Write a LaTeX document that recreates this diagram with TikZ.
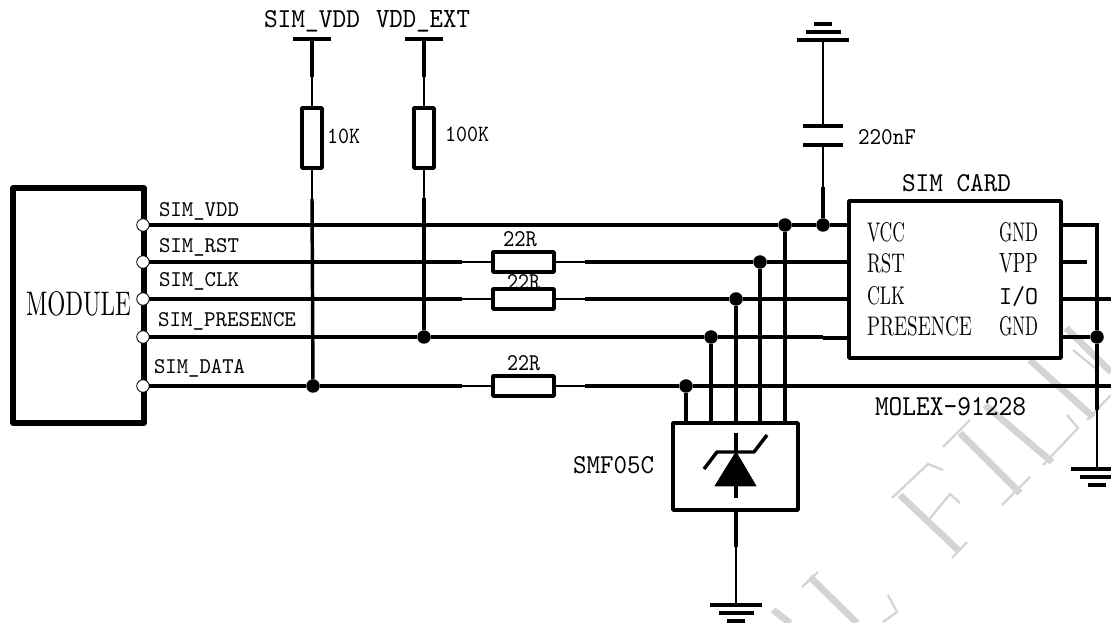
\documentclass[tikz,border=0pt]{standalone}
\usepackage{graphicx}
\newdimen\pxd \pxd=0.75pt
\newcommand\lab[6]{\node[anchor=base west,inner sep=0pt,outer sep=0pt] (#1) at (#2,#3) {\resizebox{#4\pxd}{#5\pxd}{\ttfamily #6}};}
\newcommand\labr[6]{\node[anchor=base west,inner sep=0pt,outer sep=0pt] (#1) at (#2,#3) {\resizebox{#4\pxd}{#5\pxd}{\rmfamily #6}};}
\newcommand\wmb[4]{\fill[black!17] ({#1+2.4},{#2-2.4}) -- ({#3+2.4},{#4-2.4}) -- ({#3-2.4},{#4+2.4}) -- ({#1-2.4},{#2+2.4}) -- cycle;}
\newcommand\gnd[2]{% name, direction (1 bars going down, -1 bars going up)
  \draw[heavy] ([xshift=-26*.75pt]#1) -- ([xshift=26*.75pt]#1);
  \draw[heavy] ([xshift=-17.5*.75pt,yshift=-#2*8*.75pt]#1) -- ([xshift=17.5*.75pt,yshift=-#2*8*.75pt]#1);
  \draw[heavy] ([xshift=-9*.75pt,yshift=-#2*16*.75pt]#1) -- ([xshift=9*.75pt,yshift=-#2*16*.75pt]#1);}
\tikzset{
  heavy/.style={line width=2.6pt,line cap=butt},
  fine/.style={line width=1.1pt,line cap=butt},
  box/.style={draw,line width=2.6pt,rectangle,inner sep=0pt,outer sep=0pt,line join=round},
  res v/.style={box,minimum width=20*.75pt,minimum height=60*.75pt},
  res h/.style={box,minimum width=61*.75pt,minimum height=20*.75pt},
  pin/.style={circle,draw,line width=0.6pt,fill=white,inner sep=0pt,outer sep=0pt,minimum size=12.5*.75pt},
  dot/.style={circle,fill=black,inner sep=0pt,outer sep=0pt,minimum size=13.5*.75pt},
  wmt/.style={draw=black!17,line width=1.7pt,line cap=butt}
}
\begin{document}
\begin{tikzpicture}[x=0.75pt,y=-0.75pt]
\useasboundingbox (0,0) rectangle (1111,623);
\fill[white] (0,0) rectangle (1111,623);
\clip (0,0) rectangle (1111,623);
% watermark
\wmb{900}{495}{958}{550}
\draw[wmt] (892,498) -- (928,464) -- (943,470);
\draw[wmt] (927,522) -- (950,494) -- (960,503);
\draw[wmt] (952,558) -- (967,542);
\wmb{960}{433}{1020}{493}
\draw[wmt] (943,447) -- (970,420);
\draw[wmt] (1002,505) -- (1030,477);
\wmb{985}{405}{1052}{462}
\draw[wmt] (1043,465) -- (1078,428) -- (1067,415);
\wmb{1030}{360}{1093}{417}
\wmb{1066}{328}{1111}{372}
\draw[wmt] (1073,350) -- (1095,368);
\draw[wmt] (1087,420) -- (1111,395);
\wmb{810}{577}{857}{623}
\draw[wmt] (802,587) -- (818,572);
\wmb{773}{610}{790}{623}
\draw[wmt] (888,595) -- (897,612) -- (883,622);
% main blocks
\node[box,line width=3.8pt,minimum width=131*.75pt,minimum height=235*.75pt] (module) at (78.5,305.5) {};
\node[box,minimum width=212*.75pt,minimum height=157*.75pt] (card) at (955,279.5) {};
\node[box,minimum width=125*.75pt,minimum height=87*.75pt] (tvs) at (735.5,466.5) {};
\node[res v] (r10k) at (312,138) {};
\node[res v] (r100k) at (424,138) {};
\node[res h] (rrst) at (523.5,262) {};
\node[res h] (rclk) at (523.5,299) {};
\node[res h] (rdata) at (523.5,386) {};
% pins
\node[pin] (p1) at (143,225) {};
\node[pin] (p2) at (143,262) {};
\node[pin] (p3) at (143,299) {};
\node[pin] (p4) at (143,337) {};
\node[pin] (p5) at (143,386) {};
% junctions
\node[dot] (jtvdd) at (785,225) {};
\node[dot] (jcap) at (823,225) {};
\node[dot] (jrst) at (760,262) {};
\node[dot] (jclk) at (736,299) {};
\node[dot] (jpres) at (711,337) {};
\node[dot] (jdata) at (686,386) {};
\node[dot] (jd10k) at (313,386) {};
\node[dot] (jp100k) at (424,337) {};
\node[dot] (jgnd) at (1097,337) {};
% coordinates
\coordinate (vddtop) at (312,39);
\coordinate (vddth) at (312,77);
\coordinate (r10kth) at (312,199);
\coordinate (exttop) at (424,39);
\coordinate (extth) at (424,77);
\coordinate (r100kth) at (424,198);
\coordinate (rstA) at (462,262);
\coordinate (rstB) at (585,262);
\coordinate (clkA) at (462,299);
\coordinate (clkB) at (585,299);
\coordinate (dataA) at (462,386);
\coordinate (dataB) at (585,386);
\coordinate (dataE) at (1111,386);
\coordinate (ioE) at (1111,299);
\coordinate (vppE) at (1087,262);
\coordinate (gndT) at (1097,225);
\coordinate (gndth) at (1097,410);
\coordinate (g1) at (1097,469);
\coordinate (g2) at (736,605);
\coordinate (g3) at (823,40);
\coordinate (tvsth) at (736,547);
\coordinate (capA) at (823,126);
\coordinate (capB) at (823,145);
\coordinate (capth) at (823,187);
\coordinate (presjog) at (823,337);
\coordinate (presjog2) at (823,338);
% connectors
\draw[heavy] (p1) -- (jtvdd) -- (jcap) -- (card.west |- jcap);
\draw[heavy] (p2) -- (rstA);
\draw[fine] (rstA) -- (rrst) (rrst) -- (rstB);
\draw[heavy] (rstB) -- (jrst) -- (card.west |- jrst);
\draw[heavy] (p3) -- (clkA);
\draw[fine] (clkA) -- (rclk) (rclk) -- (clkB);
\draw[heavy] (clkB) -- (jclk) -- (card.west |- jclk);
\draw[heavy] (p4) -- (jp100k) -- (jpres) -- (presjog);
\draw[heavy] (presjog2) -- (card.west |- presjog2);
\draw[heavy] (p5) -- (jd10k) -- (dataA);
\draw[fine] (dataA) -- (rdata) (rdata) -- (dataB);
\draw[heavy] (dataB) -- (jdata) -- (dataE);
\draw[heavy] (jtvdd) -- (jtvdd |- tvs.north);
\draw[heavy] (jrst) -- (jrst |- tvs.north);
\draw[heavy] (jclk) -- (jclk |- tvs.north);
\draw[heavy] (jpres) -- (jpres |- tvs.north);
\draw[heavy] (jdata) -- (jdata |- tvs.north);
% pull-ups
\draw[heavy] ([xshift=-19*.75pt]vddtop) -- ([xshift=19*.75pt]vddtop);
\draw[heavy] (vddtop) -- (vddth);
\draw[fine] (vddth) -- (r10k);
\draw[fine] (r10k) -- (r10kth);
\draw[heavy] (r10kth) -- (jd10k);
\draw[heavy] ([xshift=-19*.75pt]exttop) -- ([xshift=19*.75pt]exttop);
\draw[heavy] (exttop) -- (extth);
\draw[fine] (extth) -- (r100k);
\draw[fine] (r100k) -- (r100kth);
\draw[heavy] (r100kth) -- (jp100k);
% capacitor and top ground
\gnd{g3}{-1}
\draw[fine] (g3) -- (capA);
\draw[heavy] ([xshift=-20*.75pt]capA) -- ([xshift=20*.75pt]capA);
\draw[heavy] ([xshift=-20*.75pt]capB) -- ([xshift=20*.75pt]capB);
\draw[fine] (capB) -- (capth);
\draw[heavy] (capth) -- (jcap);
% right side of card
\draw[heavy] (card.east |- gndT) -- (gndT) -- (jgnd);
\draw[heavy] (jgnd) -- (gndth);
\draw[fine] (gndth) -- (g1);
\gnd{g1}{1}
\draw[heavy] (card.east |- jrst) -- (vppE);
\draw[heavy] (card.east |- jclk) -- (ioE);
\draw[heavy] (card.east |- jgnd) -- (jgnd);
% TVS symbol
\coordinate (dapex) at (736,452);
\coordinate (dbaseL) at (715,486);
\coordinate (dbaseR) at (756,486);
\coordinate (dcath) at (736,433);
\coordinate (dan) at (736,498);
\fill[line join=round,draw,line width=0.6pt] (dapex) -- (dbaseL) -- (dbaseR) -- cycle;
\draw[heavy] (dcath) -- (dapex);
\draw[heavy] (736,486) -- (dan);
\draw[heavy,line join=round] (704,469) -- (717,452) -- (754,452) -- (767,435);
\draw[heavy] (tvs.south -| dan) -- (tvsth);
\draw[fine] (tvsth) -- (g2);
\gnd{g2}{1}
% labels
\lab{tvdd}{264}{28}{96}{17}{SIM\_VDD}
\lab{text}{376}{28}{94}{17}{VDD\_EXT}
\lab{t10k}{327}{144}{33}{14.5}{10K}
\lab{t100k}{445}{142}{44}{14.5}{100K}
\lab{t220}{858}{145}{58}{15}{220nF}
\lab{tsim}{902}{192}{109}{17}{SIM CARD}
\labr{tvcc}{867}{242}{38}{19}{VCC}
\labr{trst}{867}{273}{38}{19}{RST}
\labr{tclk}{867}{305}{38}{18}{CLK}
\labr{tpres}{867}{336}{105}{19}{PRESENCE}
\labr{tg1}{999}{242}{39}{19}{GND}
\labr{tvpp}{999}{273}{39}{19}{VPP}
\lab{tio}{999}{305}{39}{18}{I/O}
\labr{tg2}{999}{336}{39}{19}{GND}
\lab{tmol}{875}{416}{151}{18}{MOLEX-91228}
\lab{tsmf}{573}{474}{81}{17}{SMF05C}
\labr{tmod}{26}{316}{105}{24}{MODULE}
\lab{a1}{159}{217}{80}{14}{SIM\_VDD}
\lab{a2}{159}{253}{80}{14}{SIM\_RST}
\lab{a3}{159}{287}{80}{14}{SIM\_CLK}
\lab{a4}{158}{327}{138}{14}{SIM\_PRESENCE}
\lab{a5}{154}{374}{91}{14}{SIM\_DATA}
\lab{r1}{503}{247}{34}{15}{22R}
\lab{r2}{507}{290}{33}{15}{22R}
\lab{r3}{507}{371}{33}{15}{22R}
\end{tikzpicture}
\end{document}
